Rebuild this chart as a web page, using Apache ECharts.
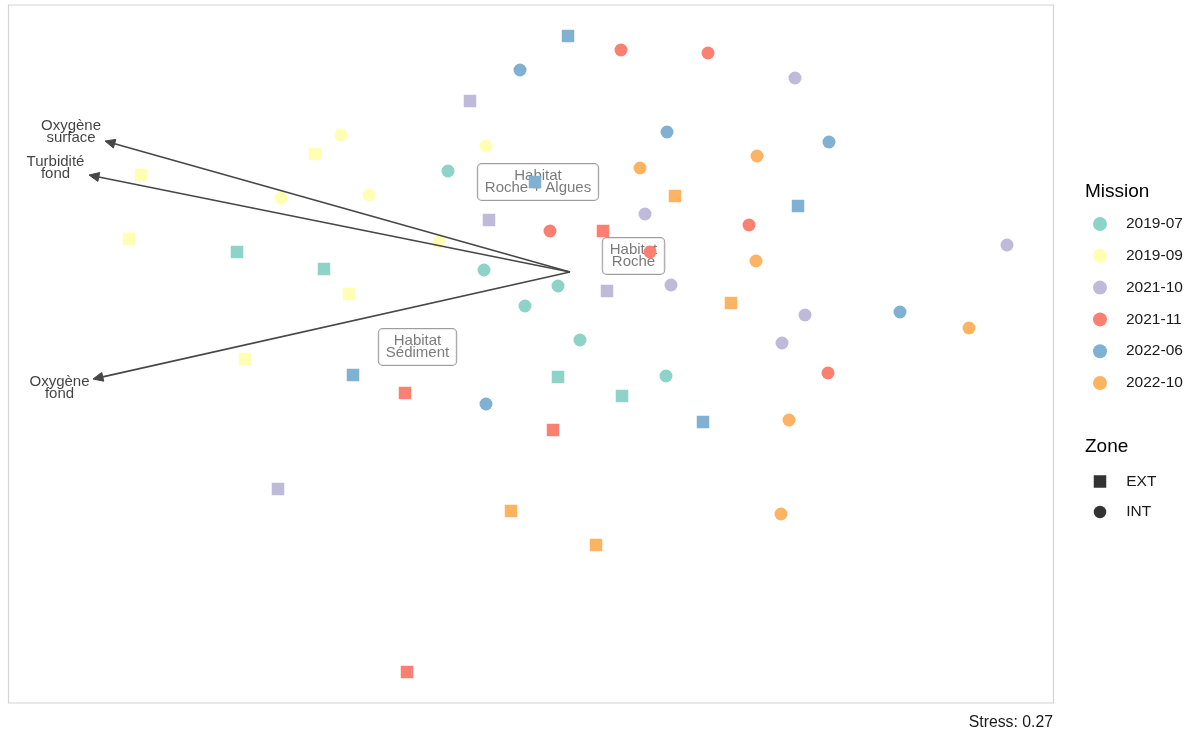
<!DOCTYPE html>
<html>
<head>
<meta charset="utf-8">
<script src="https://cdn.jsdelivr.net/npm/echarts@6/dist/echarts.min.js"></script>
<style>
html,body{margin:0;padding:0;background:#fff;}
#chart{width:1192px;height:733px;}
</style>
</head>
<body>
<div id="chart"></div>
<script>
// NMDS site scores: [NMDS1, NMDS2, Zone]
const missions = ['2019-07', '2019-09', '2021-10', '2021-11', '2022-06', '2022-10'];
const zones = ['EXT', 'INT'];

const m2019_07 = [
  [-3.33, 0.20, 'EXT'], [-2.46, 0.03, 'EXT'], [-0.12, -1.05, 'EXT'], [0.52, -1.24, 'EXT'],
  [-1.22, 1.01, 'INT'], [-0.86, 0.02, 'INT'], [-0.12, -0.14, 'INT'], [-0.45, -0.34, 'INT'],
  [0.10, -0.68, 'INT'], [0.96, -1.04, 'INT']
];
const m2019_09 = [
  [-4.29, 0.97, 'EXT'], [-2.55, 1.18, 'EXT'], [-4.41, 0.33, 'EXT'], [-2.21, -0.22, 'EXT'], [-3.25, -0.87, 'EXT'],
  [-2.29, 1.37, 'INT'], [-2.89, 0.74, 'INT'], [-2.01, 0.77, 'INT'], [-0.84, 1.26, 'INT'], [-1.31, 0.30, 'INT']
];
const m2021_10 = [
  [-1.00, 1.71, 'EXT'], [-0.81, 0.52, 'EXT'], [0.37, -0.19, 'EXT'], [-2.92, -2.17, 'EXT'],
  [0.75, 0.58, 'INT'], [1.01, -0.13, 'INT'], [2.25, 1.94, 'INT'], [4.37, 0.27, 'INT'],
  [2.35, -0.43, 'INT'], [2.12, -0.71, 'INT']
];
const m2021_11 = [
  [0.33, 0.41, 'EXT'], [-1.65, -1.21, 'EXT'], [-0.17, -1.58, 'EXT'], [-1.63, -4.00, 'EXT'],
  [0.51, 2.22, 'INT'], [1.38, 2.19, 'INT'], [-0.20, 0.41, 'INT'], [0.80, 0.20, 'INT'],
  [1.79, 0.47, 'INT'], [2.58, -1.01, 'INT']
];
const m2022_06 = [
  [-0.02, 2.36, 'EXT'], [-0.35, 0.90, 'EXT'], [2.28, 0.66, 'EXT'], [-2.17, -1.03, 'EXT'], [1.33, -1.50, 'EXT'],
  [-0.50, 2.02, 'INT'], [0.97, 1.40, 'INT'], [2.59, 1.30, 'INT'], [3.30, -0.40, 'INT'], [-0.84, -1.32, 'INT']
];
const m2022_10 = [
  [1.05, 0.76, 'EXT'], [1.61, -0.31, 'EXT'], [-0.59, -2.39, 'EXT'], [0.26, -2.73, 'EXT'],
  [0.70, 1.04, 'INT'], [1.87, 1.16, 'INT'], [1.86, 0.11, 'INT'], [3.99, -0.56, 'INT'],
  [2.19, -1.48, 'INT'], [2.11, -2.42, 'INT']
];
const missionData = [m2019_07, m2019_09, m2021_10, m2021_11, m2022_06, m2022_10];

// Environmental vectors (envfit)
const vectorNames = ['Oxygène\nsurface', 'Turbidité\nfond', 'Oxygène\nfond'];
const vectorEnds = [[-4.65, 1.31], [-4.81, 0.97], [-4.77, -1.07]];
const vectorLabelPos = [[-4.99, 1.40], [-5.145, 1.04], [-5.105, -1.16]];

// Habitat centroids
const habitatNames = ['Habitat\nRoche + Algues', 'Habitat\nRoche', 'Habitat\nSédiment'];
const habitatPos = [[-0.32, 0.90], [0.635, 0.16], [-1.525, -0.75]];

const stress = 0.27;

// ---- styling ----
const palette = ['#8DD3C7', '#FFFFB3', '#BEBADA', '#FB8072', '#80B1D3', '#FDB462'];
const FONT = '"Liberation Sans", Arial, Helvetica, sans-serif';
const SQUARE = 'path://M0 0H10V10H0Z';

const chart = echarts.init(document.getElementById('chart'), null, {renderer: 'canvas'});

const series = [];

// habitat labels (beneath points)
series.push({
  type: 'scatter', name: '_habitat', z: 1, silent: true,
  symbolSize: 1, itemStyle: {color: 'transparent'},
  data: habitatPos.map((p, i) => ({value: p, name: habitatNames[i]})),
  label: {
    show: true, position: 'inside', formatter: p => p.name,
    fontFamily: FONT, fontSize: 15, lineHeight: 12, color: '#5a5a5a', align: 'center',
    backgroundColor: '#ffffff', borderColor: '#858585', borderWidth: 1, borderRadius: 4,
    padding: [6, 7, 6, 7]
  }
});

missions.forEach((m, i) => {
  series.push({
    type: 'scatter', name: m, z: 2,
    itemStyle: {color: palette[i], opacity: 1},
    data: missionData[i].map(d => ({
      value: [d[0], d[1]],
      symbol: d[2] === 'EXT' ? 'rect' : 'circle',
      symbolSize: d[2] === 'EXT' ? 12.5 : 13
    }))
  });
});

// arrows
series.push({
  type: 'custom', name: '_vectors', z: 3, silent: true,
  data: vectorEnds,
  encode: {x: 0, y: 1},
  renderItem: function (params, api) {
    const p0 = api.coord([0, 0]);
    const p1 = api.coord([api.value(0), api.value(1)]);
    const dx = p1[0] - p0[0], dy = p1[1] - p0[1];
    const len = Math.sqrt(dx * dx + dy * dy);
    const ux = dx / len, uy = dy / len;
    const hl = 10, hw = 4.5;
    const bx = p1[0] - ux * hl, by = p1[1] - uy * hl;
    return {
      type: 'group',
      children: [
        {type: 'line', shape: {x1: p0[0], y1: p0[1], x2: bx, y2: by},
         style: {stroke: '#474747', lineWidth: 1.7}},
        {type: 'polygon', shape: {points: [
          [p1[0], p1[1]],
          [bx - uy * hw, by + ux * hw],
          [bx + uy * hw, by - ux * hw]
        ]}, style: {fill: '#474747', stroke: '#474747', lineWidth: 1}}
      ]
    };
  }
});

// arrow labels
series.push({
  type: 'scatter', name: '_vectorLabels', z: 4, silent: true,
  symbolSize: 1, itemStyle: {color: 'transparent'},
  data: vectorLabelPos.map((p, i) => ({value: p, name: vectorNames[i]})),
  label: {
    show: true, position: 'inside', formatter: p => p.name,
    fontFamily: FONT, fontSize: 15, lineHeight: 12, color: '#111111', align: 'center'
  }
});

// legend-only series for Zone
series.push({type: 'scatter', name: 'EXT', data: [], itemStyle: {color: '#000'}});
series.push({type: 'scatter', name: 'INT', data: [], itemStyle: {color: '#000'}});

const option = {
  animation: false,
  backgroundColor: '#ffffff',
  grid: {
    left: 8.5, top: 5, right: 138.5, bottom: 30,
    show: true, borderColor: '#d4d4d4', borderWidth: 1.2, backgroundColor: '#ffffff'
  },
  xAxis: {type: 'value', min: -5.615, max: 4.835, show: false},
  yAxis: {type: 'value', min: -4.31, max: 2.67, show: false},
  title: [
    {text: 'Mission', left: 1085, top: 182, padding: 0,
     textStyle: {fontFamily: FONT, fontSize: 19, fontWeight: 'normal', color: '#000'}},
    {text: 'Zone', left: 1085, top: 437, padding: 0,
     textStyle: {fontFamily: FONT, fontSize: 19, fontWeight: 'normal', color: '#000'}},
    {text: 'Stress: ' + stress.toFixed(2), right: 139, top: 715, padding: 0,
     textStyle: {fontFamily: FONT, fontSize: 15.8, fontWeight: 'normal', color: '#1a1a1a'}}
  ],
  legend: [
    {
      orient: 'vertical', left: 1093, top: 216, padding: 0,
      itemWidth: 14, itemHeight: 14, itemGap: 15.8,
      icon: 'circle',
      data: missions,
      textStyle: {fontFamily: FONT, fontSize: 15.5, color: '#1a1a1a', padding: [0, 0, 0, 14]},
      selectedMode: false
    },
    {
      orient: 'vertical', left: 1093.75, top: 473.5, padding: 0,
      itemWidth: 12.5, itemHeight: 12.5, itemGap: 14.5,
      data: [{name: 'EXT', icon: SQUARE}, {name: 'INT', icon: 'circle'}],
      textStyle: {fontFamily: FONT, fontSize: 15.5, color: '#1a1a1a', padding: [0, 0, 0, 15]},
      selectedMode: false
    }
  ],
  series: series
};

chart.setOption(option);
</script>
</body>
</html>
